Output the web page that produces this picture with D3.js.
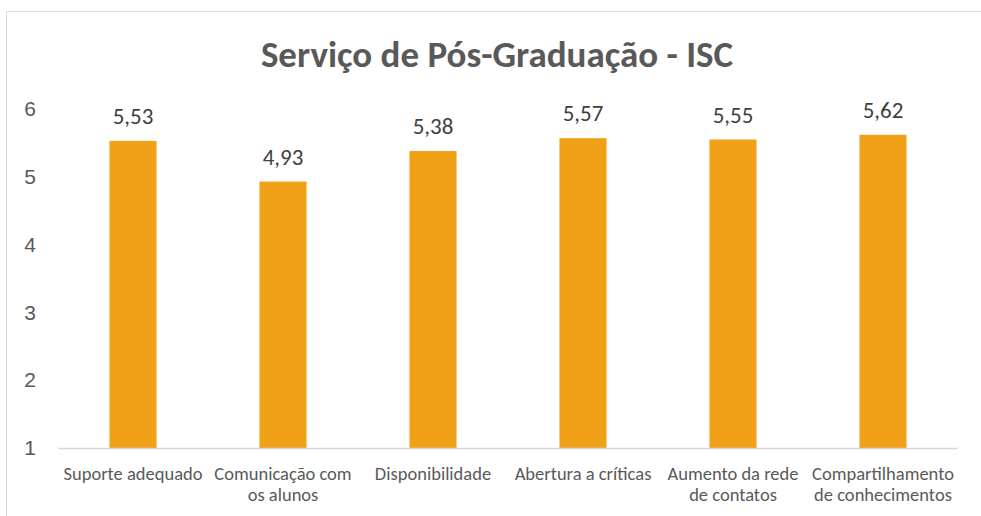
<!DOCTYPE html>
<html>
<head>
<meta charset="utf-8">
<script src="https://cdn.jsdelivr.net/npm/d3@7"></script>
<style>
  body { margin: 0; background: #fff; }
  svg { display: block; font-family: Carlito, Lato, "Open Sans", sans-serif; }
</style>
</head>
<body>
<div id="chart"></div>
<script>
// chart data
const categories = ["Suporte adequado", "Comunicação com os alunos", "Disponibilidade",
  "Abertura a críticas", "Aumento da rede de contatos", "Compartilhamento de conhecimentos"];
const values = [5.53, 4.93, 5.38, 5.57, 5.55, 5.62];
const yTicks = [1, 2, 3, 4, 5, 6];
const title = "Serviço de Pós-Graduação - ISC";

const W = 981, H = 516;
const margin = {top: 109, right: 23, bottom: 68, left: 58};
const innerW = W - margin.left - margin.right;
const innerH = H - margin.top - margin.bottom;

const svg = d3.select("#chart").append("svg")
  .attr("width", W)
  .attr("height", H);

// outer chart frame (runs past the window edge on right and bottom)
svg.append("rect")
  .attr("x", 6.5).attr("y", 11.5)
  .attr("width", W + 20).attr("height", H + 20)
  .attr("fill", "#fff")
  .attr("stroke", "#d9d9d9");

svg.append("text")
  .attr("x", 497).attr("y", 67)
  .attr("text-anchor", "middle")
  .attr("font-size", 37)
  .attr("font-weight", "bold")
  .attr("fill", "#595959")
  .text(title);

const g = svg.append("g")
  .attr("transform", "translate(" + margin.left + "," + margin.top + ")");

const x = d3.scaleBand()
  .domain(categories)
  .range([0, innerW])
  .paddingInner(0.686)
  .paddingOuter(0.343);

const y = d3.scaleLinear()
  .domain([1, 6])
  .range([innerH, 0]);

// y axis: labels only
const yAxis = g.append("g")
  .call(d3.axisLeft(y).tickValues(yTicks).tickSize(0).tickPadding(22).tickFormat(d3.format("d")));
yAxis.select(".domain").remove();
yAxis.selectAll("text")
  .attr("font-family", null)
  .attr("font-size", 21)
  .attr("fill", "#595959");

// bars
g.selectAll("rect.bar").data(values)
  .enter().append("rect")
  .attr("class", "bar")
  .attr("x", (d, i) => x(categories[i]))
  .attr("width", x.bandwidth())
  .attr("y", d => y(d))
  .attr("height", d => innerH - y(d))
  .attr("fill", "#f0a118");

// value labels
const fmt = d => d.toFixed(2).replace(".", ",");
g.selectAll("text.val").data(values)
  .enter().append("text")
  .attr("class", "val")
  .attr("x", (d, i) => x(categories[i]) + x.bandwidth() / 2)
  .attr("y", d => y(d) - 17)
  .attr("text-anchor", "middle")
  .attr("font-size", 23)
  .attr("fill", "#404040")
  .text(fmt);

// x axis baseline
g.append("line")
  .attr("x1", 0).attr("x2", innerW)
  .attr("y1", innerH + 0.5).attr("y2", innerH + 0.5)
  .attr("stroke", "#d9d9d9")
  .attr("stroke-width", 1.5);

// category labels, wrapped to the band step
const step = x.step();
const xl = g.append("g").attr("transform", "translate(0," + innerH + ")");
categories.forEach(function(c) {
  const t = xl.append("text")
    .attr("x", x(c) + x.bandwidth() / 2)
    .attr("y", 32)
    .attr("text-anchor", "middle")
    .attr("font-size", 18.5)
    .attr("fill", "#595959");
  const words = c.split(" ");
  let line = [];
  let ts = t.append("tspan").attr("x", x(c) + x.bandwidth() / 2).attr("dy", 0);
  words.forEach(function(w) {
    line.push(w);
    ts.text(line.join(" "));
    if (ts.node().getComputedTextLength() > step - 2 && line.length > 1) {
      line.pop();
      ts.text(line.join(" "));
      line = [w];
      ts = t.append("tspan").attr("x", x(c) + x.bandwidth() / 2).attr("dy", 21).text(w);
    }
  });
});
</script>
</body>
</html>
